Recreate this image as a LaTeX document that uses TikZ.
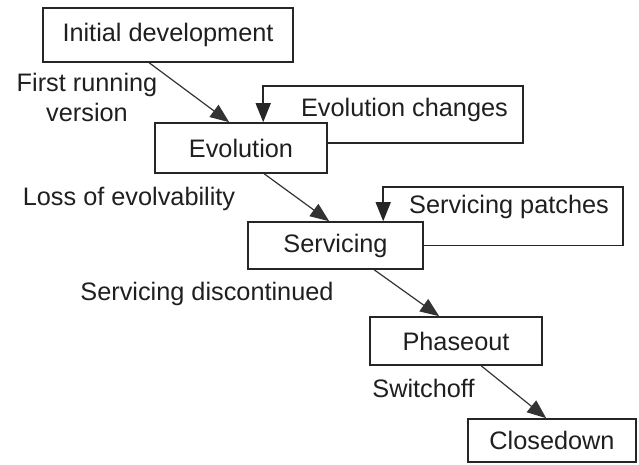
\documentclass[tikz,border=0pt]{standalone}
\usepackage{fontspec}
\setmainfont{Liberation Sans}
\usetikzlibrary{arrows.meta,calc}
\begin{document}
\begin{tikzpicture}[x=1pt,y=-1pt,
  every node/.style={font=\fontsize{25.3}{30}\selectfont, text=black!88, inner sep=0pt},
  stagebox/.style={draw=black!85, line width=1.6pt, fill=white},
  lbl/.style={anchor=base},
  flow/.style={draw=black!80, line width=1.2pt, -{Triangle[length=19pt,width=15pt]}},
  loopline/.style={draw=black!85, line width=1.5pt, -{Triangle[length=19pt,width=15pt]}}]
\useasboundingbox (0,0) rectangle (639,465);
\clip (0,0) rectangle (639,465);

% stages
\node[stagebox, minimum width=250pt, minimum height=54pt] (init) at (168,35) {Initial development};
\node[stagebox, minimum width=172pt, minimum height=50pt] (evol) at (241,148) {Evolution};
\node[stagebox, minimum width=175pt, minimum height=47pt] (serv) at (335.5,245.5) {Servicing};
\node[stagebox, minimum width=172pt, minimum height=48pt] (phase) at (456,341) {Phaseout};
\node[stagebox, minimum width=168pt, minimum height=43pt] (close) at (552,440.5) {Closedown};

% transition labels
\node[lbl] (first1) at (87,92) {First running};
\node[lbl] (first2) at (87,122) {version};
\node[lbl] (loss) at (129,205) {Loss of evolvability};
\node[lbl] (disc) at (207,300) {Servicing discontinued};
\node[lbl] (switch) at (423.5,397) {Switchoff};

% loop labels
\node[lbl] (chg) at (404.5,117) {Evolution changes};
\node[lbl] (patch) at (509,213) {Servicing patches};

% transitions
\draw[flow] ([xshift=107pt]init.south west) -- ([xshift=75pt]evol.north west);
\draw[flow] ([xshift=110pt]evol.south west) -- ([xshift=82pt]serv.north west);
\draw[flow] ([xshift=127pt]serv.south west) -- ([xshift=70pt]phase.north west);
\draw[flow] ([xshift=112pt]phase.south west) -- ([xshift=79pt]close.north west);

% feedback loops
\coordinate (ecorner) at (523,86);
\coordinate (pcorner) at (623,187);
\draw[loopline] ([yshift=5pt]evol.east) -| (ecorner) -| ([xshift=109pt]evol.north west);
\draw[loopline] (serv.east) -| (pcorner) -| ([xshift=136pt]serv.north west);
\end{tikzpicture}
\end{document}
